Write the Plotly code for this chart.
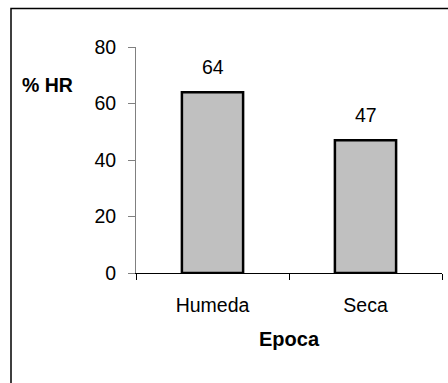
import plotly.graph_objects as go

# Relative humidity by season
epocas = ["Humeda", "Seca"]
hr_values = [64, 47]
y_ticks = [0, 20, 40, 60, 80]

FONT = "Arial, 'Liberation Sans', sans-serif"
W, H = 448, 383
L, R, T, B = 136, 6, 47, 110

fig = go.Figure(
    go.Bar(
        x=epocas,
        y=hr_values,
        width=0.4,
        marker=dict(color="#C0C0C0", line=dict(color="black", width=2.5)),
        hoverinfo="skip",
    )
)

# value labels above each bar
for cat, val in zip(epocas, hr_values):
    fig.add_annotation(
        x=cat, y=val, text=str(val), showarrow=False,
        yanchor="bottom", yshift=12,
        font=dict(family=FONT, size=19.5, color="black"),
    )

# y-axis caption, horizontal at top-left
fig.add_annotation(
    xref="paper", yref="paper",
    x=(20 - L) / (W - L - R), y=1 - (85 - T) / (H - T - B),
    xanchor="left", yanchor="middle",
    text="<b>% HR</b>", showarrow=False,
    font=dict(family=FONT, size=19.5, color="black"),
)

# chart-area frame
pw, ph = W - L - R, H - T - B
fig.add_shape(
    type="rect", xref="paper", yref="paper",
    x0=(11 - L) / pw, x1=(W + 20 - L) / pw,
    y0=1 - (H + 20 - T) / ph, y1=1 - (8.5 - T) / ph,
    line=dict(color="black", width=1.5), fillcolor="rgba(0,0,0,0)",
    layer="below",
)

fig.update_layout(
    width=W, height=H,
    margin=dict(l=L, r=R, t=T, b=B, pad=0),
    paper_bgcolor="white", plot_bgcolor="white",
    showlegend=False,
    font=dict(family=FONT, size=19.5, color="black"),
    xaxis=dict(
        showline=True, linecolor="black", linewidth=1,
        ticks="outside", ticklen=6, tickcolor="black",
        tickson="boundaries", ticklabelstandoff=15,
        showgrid=False, zeroline=False,
        title=dict(text="<b>Epoca</b>", standoff=16,
                   font=dict(family=FONT, size=20, color="black")),
    ),
    yaxis=dict(
        range=[0, 80], tickvals=y_ticks,
        showline=True, linecolor="#808080", linewidth=1,
        ticks="outside", ticklen=7, tickcolor="#808080",
        ticklabelstandoff=8,
        showgrid=False, zeroline=False,
    ),
)

fig.write_html("out.html")
